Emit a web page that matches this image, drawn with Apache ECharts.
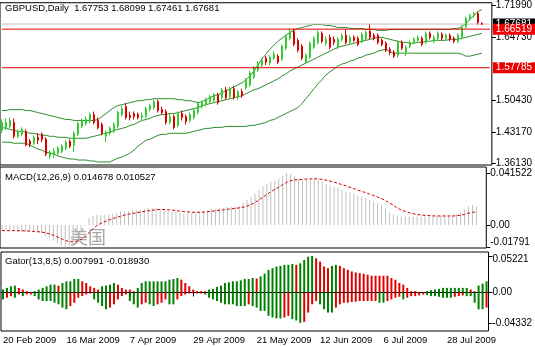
<!DOCTYPE html>
<html><head><meta charset="utf-8">
<script src="https://cdn.jsdelivr.net/npm/echarts@6/dist/echarts.min.js"></script>
<style>html,body{margin:0;padding:0;background:#fff}#c{width:535px;height:347px}</style>
</head><body><div id="c"></div><script>
const dates = ['20 Feb 2009','23 Feb 2009','24 Feb 2009','25 Feb 2009','26 Feb 2009','27 Feb 2009',
'2 Mar 2009','3 Mar 2009','4 Mar 2009','5 Mar 2009','6 Mar 2009','9 Mar 2009','10 Mar 2009','11 Mar 2009','12 Mar 2009','13 Mar 2009','16 Mar 2009','17 Mar 2009','18 Mar 2009','19 Mar 2009','20 Mar 2009','23 Mar 2009','24 Mar 2009','25 Mar 2009','26 Mar 2009','27 Mar 2009','30 Mar 2009','31 Mar 2009',
'1 Apr 2009','2 Apr 2009','3 Apr 2009','6 Apr 2009','7 Apr 2009','8 Apr 2009','9 Apr 2009','10 Apr 2009','13 Apr 2009','14 Apr 2009','15 Apr 2009','16 Apr 2009','17 Apr 2009','20 Apr 2009','21 Apr 2009','22 Apr 2009','23 Apr 2009','24 Apr 2009','27 Apr 2009','28 Apr 2009','29 Apr 2009','30 Apr 2009',
'1 May 2009','4 May 2009','5 May 2009','6 May 2009','7 May 2009','8 May 2009','11 May 2009','12 May 2009','13 May 2009','14 May 2009','15 May 2009','18 May 2009','19 May 2009','20 May 2009','21 May 2009','22 May 2009','25 May 2009','26 May 2009','27 May 2009','28 May 2009','29 May 2009',
'1 Jun 2009','2 Jun 2009','3 Jun 2009','4 Jun 2009','5 Jun 2009','8 Jun 2009','9 Jun 2009','10 Jun 2009','11 Jun 2009','12 Jun 2009','15 Jun 2009','16 Jun 2009','17 Jun 2009','18 Jun 2009','19 Jun 2009','22 Jun 2009','23 Jun 2009','24 Jun 2009','25 Jun 2009','26 Jun 2009','29 Jun 2009','30 Jun 2009',
'1 Jul 2009','2 Jul 2009','3 Jul 2009','6 Jul 2009','7 Jul 2009','8 Jul 2009','9 Jul 2009','10 Jul 2009','13 Jul 2009','14 Jul 2009','15 Jul 2009','16 Jul 2009','17 Jul 2009','20 Jul 2009','21 Jul 2009','22 Jul 2009','23 Jul 2009','24 Jul 2009','27 Jul 2009','28 Jul 2009','29 Jul 2009','30 Jul 2009','31 Jul 2009',
'3 Aug 2009','4 Aug 2009','5 Aug 2009','6 Aug 2009','7 Aug 2009','10 Aug 2009','11 Aug 2009'];
const dateTickIndex = [0,16,32,48,64,80,96,112];

const open = [
1.4360,1.4405,1.4449,1.4539,1.4225,1.4270,1.4337,1.4113,1.4068,1.4203,
1.4270,1.4158,1.3777,1.3799,1.3844,1.3889,1.3956,1.4113,1.4024,1.4270,
1.4449,1.4517,1.4561,1.4718,1.4584,1.4494,1.4225,1.4293,1.4337,1.4449,
1.4718,1.4898,1.4696,1.4741,1.4718,1.4651,1.4673,1.4830,1.4875,1.5010,
1.4830,1.4786,1.4539,1.4673,1.4472,1.4741,1.4673,1.4584,1.4651,1.4763,
1.4898,1.4942,1.5010,1.5032,1.5167,1.5100,1.5279,1.5122,1.5301,1.5100,
1.5234,1.5323,1.5391,1.5570,1.5727,1.5839,1.5996,1.5884,1.5996,1.6040,
1.5973,1.6220,1.6444,1.6601,1.6399,1.6265,1.5906,1.6018,1.6242,1.6354,
1.6556,1.6332,1.6466,1.6421,1.6242,1.6421,1.6511,1.6354,1.6466,1.6444,
1.6377,1.6444,1.6601,1.6511,1.6511,1.6399,1.6332,1.6197,1.6130,1.6063,
1.6354,1.6130,1.6265,1.6354,1.6399,1.6444,1.6354,1.6556,1.6377,1.6444,
1.6534,1.6444,1.6511,1.6444,1.6377,1.6466,1.6713,1.6892,1.6959,1.7004,
1.67753];
const close = [
1.4539,1.4539,1.4584,1.4225,1.4337,1.4382,1.4024,1.4046,1.4203,1.4136,
1.4158,1.3822,1.3867,1.3889,1.3956,1.4001,1.4091,1.4001,1.4293,1.4517,
1.4584,1.4606,1.4718,1.4539,1.4427,1.4293,1.4315,1.4405,1.4494,1.4763,
1.4853,1.4651,1.4651,1.4673,1.4651,1.4696,1.4853,1.4920,1.5010,1.4808,
1.4763,1.4539,1.4673,1.4427,1.4741,1.4651,1.4561,1.4718,1.4808,1.4965,
1.4987,1.5055,1.5122,1.5167,1.4987,1.5279,1.5100,1.5301,1.5100,1.5234,
1.5144,1.5503,1.5660,1.5771,1.5884,1.5951,1.5906,1.6018,1.6085,1.5906,
1.6265,1.6489,1.6601,1.6309,1.6175,1.5996,1.6063,1.6332,1.6444,1.6578,
1.6377,1.6421,1.6242,1.6354,1.6421,1.6511,1.6354,1.6466,1.6399,1.6309,
1.6534,1.6578,1.6466,1.6444,1.6354,1.6309,1.6175,1.6130,1.6040,1.6354,
1.6220,1.6242,1.6354,1.6421,1.6466,1.6309,1.6556,1.6466,1.6466,1.6556,
1.6444,1.6511,1.6421,1.6377,1.6511,1.6690,1.6892,1.6959,1.7004,1.6802,
1.67681];
const low = [
1.4293,1.4360,1.4405,1.4180,1.4180,1.4225,1.4001,1.3979,1.4024,1.4046,
1.4091,1.3777,1.3710,1.3732,1.3799,1.3844,1.3911,1.3956,1.3867,1.4225,
1.4405,1.4472,1.4517,1.4494,1.4382,1.4248,1.4091,1.4248,1.4293,1.4405,
1.4673,1.4606,1.4584,1.4606,1.4606,1.4584,1.4629,1.4786,1.4830,1.4763,
1.4718,1.4494,1.4494,1.4382,1.4427,1.4584,1.4494,1.4539,1.4606,1.4718,
1.4853,1.4898,1.4965,1.4987,1.4942,1.5055,1.5055,1.5077,1.5055,1.5055,
1.5100,1.5279,1.5346,1.5525,1.5682,1.5794,1.5839,1.5839,1.5951,1.5861,
1.5928,1.6175,1.6399,1.6265,1.6130,1.5951,1.5861,1.5973,1.6197,1.6309,
1.6332,1.6287,1.6197,1.6287,1.6197,1.6377,1.6309,1.6309,1.6354,1.6265,
1.6332,1.6399,1.6421,1.6399,1.6309,1.6265,1.6130,1.6063,1.5996,1.6018,
1.6175,1.6040,1.6220,1.6309,1.6354,1.6265,1.6309,1.6421,1.6332,1.6399,
1.6399,1.6399,1.6377,1.6332,1.6332,1.6421,1.6668,1.6847,1.6914,1.6758,
1.67461];
const high = [
1.4606,1.4629,1.4651,1.4629,1.4382,1.4427,1.4382,1.4158,1.4248,1.4293,
1.4315,1.4203,1.3911,1.3956,1.4001,1.4046,1.4136,1.4158,1.4337,1.4561,
1.4629,1.4673,1.4763,1.4786,1.4651,1.4539,1.4360,1.4449,1.4539,1.4808,
1.4920,1.4965,1.4786,1.4786,1.4763,1.4763,1.4898,1.4965,1.5055,1.5055,
1.4898,1.4830,1.4741,1.4718,1.4786,1.4808,1.4718,1.4763,1.4853,1.5010,
1.5032,1.5100,1.5167,1.5211,1.5211,1.5323,1.5346,1.5346,1.5368,1.5279,
1.5301,1.5548,1.5704,1.5816,1.5928,1.5996,1.6040,1.6063,1.6153,1.6085,
1.6309,1.6534,1.6668,1.6668,1.6444,1.6309,1.6108,1.6377,1.6489,1.6623,
1.6601,1.6489,1.6534,1.6489,1.6466,1.6556,1.6646,1.6511,1.6511,1.6489,
1.6578,1.6623,1.6758,1.6556,1.6556,1.6444,1.6377,1.6242,1.6175,1.6399,
1.6399,1.6287,1.6399,1.6466,1.6511,1.6489,1.6601,1.6601,1.6511,1.6601,
1.6578,1.6556,1.6556,1.6489,1.6556,1.6735,1.6937,1.7004,1.7049,1.7049,
1.68099];

const bbUpper = [
1.4808,1.4808,1.4830,1.4830,1.4830,1.4830,1.4808,1.4808,1.4786,1.4763,
1.4741,1.4718,1.4696,1.4673,1.4651,1.4629,1.4606,1.4606,1.4584,1.4584,
1.4584,1.4584,1.4584,1.4584,1.4606,1.4673,1.4741,1.4808,1.4875,1.4920,
1.4942,1.4965,1.4987,1.5010,1.5032,1.5032,1.5055,1.5055,1.5077,1.5077,
1.5077,1.5077,1.5077,1.5077,1.5055,1.5055,1.5032,1.5032,1.5010,1.4987,
1.5010,1.5055,1.5100,1.5144,1.5167,1.5211,1.5256,1.5301,1.5346,1.5391,
1.5435,1.5503,1.5592,1.5704,1.5839,1.5973,1.6085,1.6197,1.6287,1.6377,
1.6444,1.6511,1.6578,1.6623,1.6668,1.6690,1.6713,1.6735,1.6758,1.6758,
1.6758,1.6735,1.6735,1.6713,1.6690,1.6690,1.6690,1.6668,1.6668,1.6668,
1.6668,1.6646,1.6646,1.6646,1.6623,1.6623,1.6623,1.6646,1.6646,1.6646,
1.6646,1.6646,1.6646,1.6646,1.6646,1.6646,1.6646,1.6646,1.6646,1.6646,
1.6646,1.6646,1.6646,1.6668,1.6668,1.6713,1.6780,1.6870,1.6959,1.7049,
1.7094];
const bbMiddle = [
1.4427,1.4405,1.4382,1.4360,1.4337,1.4337,1.4315,1.4293,1.4293,1.4270,
1.4248,1.4248,1.4225,1.4225,1.4203,1.4203,1.4203,1.4180,1.4180,1.4180,
1.4180,1.4180,1.4203,1.4225,1.4248,1.4270,1.4293,1.4315,1.4360,1.4382,
1.4405,1.4427,1.4472,1.4494,1.4539,1.4584,1.4606,1.4629,1.4673,1.4696,
1.4718,1.4718,1.4741,1.4741,1.4763,1.4786,1.4808,1.4830,1.4853,1.4875,
1.4920,1.4942,1.4965,1.4987,1.5010,1.5032,1.5055,1.5077,1.5100,1.5122,
1.5144,1.5189,1.5234,1.5279,1.5301,1.5346,1.5391,1.5435,1.5480,1.5525,
1.5592,1.5637,1.5704,1.5749,1.5794,1.5839,1.5884,1.5928,1.5973,1.6018,
1.6063,1.6108,1.6153,1.6197,1.6242,1.6265,1.6287,1.6309,1.6332,1.6354,
1.6377,1.6399,1.6421,1.6444,1.6466,1.6466,1.6444,1.6421,1.6399,1.6377,
1.6354,1.6354,1.6332,1.6332,1.6354,1.6354,1.6377,1.6377,1.6399,1.6399,
1.6399,1.6399,1.6421,1.6421,1.6421,1.6444,1.6466,1.6489,1.6511,1.6534,
1.6556];
const bbLower = [
1.4091,1.4091,1.4091,1.4068,1.4068,1.4068,1.4068,1.4024,1.3979,1.3934,
1.3911,1.3867,1.3844,1.3822,1.3777,1.3755,1.3732,1.3710,1.3710,1.3688,
1.3688,1.3688,1.3665,1.3665,1.3643,1.3643,1.3643,1.3643,1.3688,1.3732,
1.3755,1.3799,1.3844,1.3911,1.4001,1.4068,1.4136,1.4158,1.4203,1.4248,
1.4270,1.4270,1.4293,1.4293,1.4293,1.4293,1.4293,1.4315,1.4337,1.4360,
1.4382,1.4405,1.4405,1.4427,1.4427,1.4427,1.4449,1.4449,1.4449,1.4449,
1.4449,1.4449,1.4472,1.4472,1.4494,1.4517,1.4539,1.4584,1.4606,1.4651,
1.4696,1.4741,1.4786,1.4830,1.4875,1.4965,1.5077,1.5189,1.5301,1.5413,
1.5503,1.5615,1.5682,1.5749,1.5816,1.5861,1.5884,1.5928,1.5951,1.5996,
1.6018,1.6063,1.6085,1.6108,1.6153,1.6175,1.6197,1.6130,1.6108,1.6108,
1.6108,1.6108,1.6108,1.6108,1.6108,1.6108,1.6108,1.6108,1.6108,1.6108,
1.6108,1.6108,1.6108,1.6108,1.6108,1.6085,1.6040,1.6040,1.6063,1.6085,
1.6108];

const macdMain = [
-0.0040,-0.0042,-0.0043,-0.0047,-0.0050,-0.0050,-0.0055,-0.0060,-0.0060,-0.0062,
-0.0065,-0.0085,-0.0105,-0.0125,-0.0145,-0.0165,-0.01791,-0.0170,-0.0140,-0.0100,
-0.0055,-0.0005,0.0055,0.0072,0.0080,0.0078,0.0080,0.0085,0.0090,0.0100,
0.0110,0.0110,0.0112,0.0115,0.0118,0.0120,0.0130,0.0135,0.0138,0.0135,
0.0128,0.0118,0.0112,0.0103,0.0100,0.0095,0.0090,0.0090,0.0095,0.0100,
0.0105,0.0110,0.0118,0.0125,0.0125,0.0135,0.0135,0.0142,0.0145,0.0150,
0.0150,0.0175,0.0200,0.0225,0.0250,0.0280,0.0310,0.0330,0.0345,0.0355,
0.0370,0.0395,0.041522,0.0405,0.0385,0.0365,0.0355,0.0360,0.0365,0.0370,
0.0360,0.0345,0.0330,0.0315,0.0305,0.0295,0.0280,0.0270,0.0260,0.0245,
0.0235,0.0228,0.0215,0.0200,0.0190,0.0178,0.0160,0.0130,0.0100,0.0085,
0.0075,0.0068,0.0066,0.0065,0.0066,0.0066,0.0068,0.0070,0.0070,0.0072,
0.0072,0.0074,0.0075,0.0076,0.0080,0.0090,0.0105,0.0125,0.0150,0.0160,
0.014678];
const macdSignal = [
-0.0045,-0.0045,-0.0045,-0.0045,-0.0046,-0.0046,-0.0047,-0.0049,-0.0051,-0.0053,
-0.0056,-0.0062,-0.0071,-0.0082,-0.0095,-0.0109,-0.0123,-0.0133,-0.0135,-0.0128,
-0.0114,-0.0092,-0.0062,-0.0032,-0.0005,0.0013,0.0027,0.0039,0.0050,0.0060,
0.0070,0.0079,0.0086,0.0092,0.0098,0.0103,0.0108,0.0113,0.0118,0.0122,
0.0124,0.0124,0.0122,0.0119,0.0115,0.0111,0.0107,0.0104,0.0102,0.0101,
0.0102,0.0103,0.0106,0.0110,0.0113,0.0117,0.0121,0.0125,0.0129,0.0133,
0.0137,0.0142,0.0150,0.0163,0.0180,0.0200,0.0222,0.0244,0.0265,0.0284,
0.0303,0.0322,0.0340,0.0353,0.0360,0.0362,0.0364,0.0366,0.0368,0.0369,
0.0368,0.0364,0.0358,0.0350,0.0342,0.0333,0.0322,0.0312,0.0301,0.0290,
0.0279,0.0268,0.0258,0.0246,0.0235,0.0223,0.0211,0.0195,0.0176,0.0158,
0.0135,0.0120,0.0108,0.0098,0.0090,0.0084,0.0080,0.0077,0.0075,0.0073,
0.0072,0.0072,0.0072,0.0072,0.0072,0.0074,0.0078,0.0085,0.0094,0.0101,
0.010527];

const gatorUpper = [
0.0042,0.0066,0.0089,0.0099,0.0066,0.0042,0.0019,0.0005,0.0019,0.0042,
0.0066,0.0089,0.0113,0.0113,0.0099,0.0136,0.0160,0.0160,0.0193,0.0193,
0.0160,0.0136,0.0089,0.0066,0.0042,0.0089,0.0099,0.0113,0.0136,0.0113,
0.0066,0.0042,0.0042,0.0019,0.0066,0.0136,0.0160,0.0160,0.0160,0.0160,
0.0160,0.0160,0.0183,0.0193,0.0207,0.0183,0.0136,0.0089,0.0042,0.0019,
0.0019,0.0019,0.0042,0.0052,0.0080,0.0099,0.0136,0.0146,0.0160,0.0160,
0.0174,0.0193,0.0193,0.0207,0.0200,0.0230,0.0270,0.0324,0.0348,0.0371,
0.0381,0.0395,0.0395,0.0409,0.0395,0.0418,0.0465,0.0512,0.05221,0.0489,
0.0442,0.0371,0.0348,0.0381,0.0395,0.0381,0.0348,0.0324,0.0301,0.0287,
0.0277,0.0268,0.0254,0.0240,0.0240,0.0240,0.0240,0.0240,0.0207,0.0183,
0.0136,0.0113,0.0066,0.0019,0.0019,0.0009,0.0009,0.0019,0.0033,0.0042,
0.0052,0.0066,0.0066,0.0066,0.0066,0.0066,0.0066,0.0066,0.0042,0.0019,
0.0099,0.0127,0.0160];
const gatorLower = [
-0.0099,-0.0075,-0.0052,-0.0075,-0.0028,-0.0052,-0.0028,-0.0028,-0.0052,-0.0099,
-0.0122,-0.0122,-0.0122,-0.0146,-0.0169,-0.0216,-0.0240,-0.0193,-0.0146,-0.0075,
-0.0052,-0.0028,-0.0014,-0.0099,-0.0146,-0.0193,-0.0240,-0.0216,-0.0169,-0.0099,
-0.0052,-0.0028,-0.0122,-0.0169,-0.0216,-0.0169,-0.0146,-0.0169,-0.0193,-0.0169,
-0.0146,-0.0099,-0.0169,-0.0169,-0.0099,-0.0052,-0.0028,-0.0014,-0.0014,-0.0014,
-0.0014,-0.0028,-0.0075,-0.0099,-0.0122,-0.0146,-0.0169,-0.0169,-0.0169,-0.0193,
-0.0193,-0.0193,-0.0169,-0.0193,-0.0216,-0.0263,-0.0263,-0.0334,-0.0357,-0.0371,
-0.0371,-0.0357,-0.0334,-0.0381,-0.0400,-0.04332,-0.0420,-0.0287,-0.0169,-0.0122,
-0.0169,-0.0240,-0.0287,-0.0287,-0.0216,-0.0169,-0.0146,-0.0146,-0.0136,-0.0132,
-0.0122,-0.0122,-0.0122,-0.0122,-0.0122,-0.0146,-0.0146,-0.0122,-0.0099,-0.0075,
-0.0061,-0.0099,-0.0075,-0.0052,-0.0052,-0.0042,-0.0028,-0.0038,-0.0052,-0.0052,
-0.0061,-0.0075,-0.0075,-0.0075,-0.0061,-0.0052,-0.0042,-0.0052,-0.0052,-0.0146,
-0.0240,-0.0240,-0.0216];

const priceTicks = [1.7199, 1.6473, 1.5043, 1.4317, 1.3613];
const priceTickLabels = ['1.71990','1.64730','1.50430','1.43170','1.36130'];
const macdTicks = [0.041522, 0, -0.01791];
const macdTickLabels = ['0.041522','0.00','-0.01791'];
const gatorTicks = [0.05221, 0, -0.04332];
const gatorTickLabels = ['0.05221','0.00','-0.04332'];
const levelLines = [1.66519, 1.57785];
const levelLabels = ['1.66519','1.57785'];
const bidLine = 1.67681;
const bidLabel = '1.67681';
const titleMain = 'GBPUSD,Daily  1.67753 1.68099 1.67461 1.67681';
const titleMacd = 'MACD(12,26,9) 0.014678 0.010527';
const titleGator = 'Gator(13,8,5) 0.007991 -0.018930';
const watermark = '美国';

const FONT = 'Liberation Sans';
const GREEN = '#008000', RED = '#e00000', LEVEL = '#e00000';

function tickFmt(ticks, labels, rich) {
  return function (v) {
    for (let i = 0; i < ticks.length; i++) {
      if (Math.abs(v - ticks[i]) < 1e-9) return rich && rich[i] ? '{' + rich[i] + '|' + labels[i] + '}' : labels[i];
    }
    return '';
  };
}
function gatorItems(arr) {
  let col = GREEN;
  return arr.map((v, i) => {
    if (i > 0) {
      const a = Math.abs(v), b = Math.abs(arr[i - 1]);
      if (a > b) col = GREEN; else if (a < b) col = RED;
    }
    return { value: v, itemStyle: { color: col } };
  });
}
const showDate = (idx) => dateTickIndex.indexOf(idx) >= 0;
const candles = dates.map((d, i) => i < open.length ? [open[i], close[i], low[i], high[i]] : '-');
const firstCat = dates[0], lastCat = dates[dates.length - 1];

const labelStyle = { fontFamily: FONT, fontSize: 10, color: '#000' };
const richLab = {
  up: { fontFamily: FONT, fontSize: 10, color: '#000', padding: [0, 0, 10, 0] },
  dn: { fontFamily: FONT, fontSize: 10, color: '#000', padding: [6, 0, 0, 0] }
};

function xAx(gi, showLab) {
  return {
    type: 'category', gridIndex: gi, data: dates, boundaryGap: true,
    axisLine: { show: showLab, lineStyle: { color: '#000', width: 1 } },
    axisTick: { show: showLab, interval: (i) => showDate(i), alignWithLabel: true, length: 4, lineStyle: { color: '#000' } },
    axisLabel: { show: showLab, interval: (i) => showDate(i), align: 'left', margin: 4, fontFamily: FONT, fontSize: 9.5, color: '#000' },
    splitLine: { show: false }
  };
}
function yAx(gi, min, max, ticks, labels, rich) {
  return {
    type: 'value', gridIndex: gi, position: 'right', min: min, max: max,
    axisLine: { show: false }, splitLine: { show: false },
    axisTick: { show: true, customValues: ticks, length: 4, lineStyle: { color: '#000' } },
    axisLabel: Object.assign({ customValues: ticks, margin: 4, formatter: tickFmt(ticks, labels, rich), rich: richLab }, labelStyle)
  };
}
function levelSeries(name, value, text, lineColor, boxColor, z) {
  return {
    type: 'line', name: name, xAxisIndex: 0, yAxisIndex: 0, z: z, clip: false, silent: true,
    data: [[firstCat, value], [lastCat, value]],
    symbol: 'none', showSymbol: false, color: lineColor,
    lineStyle: { color: lineColor, width: 1, type: 'solid' },
    endLabel: { show: true, formatter: () => text, distance: 3, backgroundColor: boxColor, color: '#fff',
      padding: [1, 3, 0, 3], fontFamily: FONT, fontSize: 10 }
  };
}

const chart = echarts.init(document.getElementById('c'), null, { renderer: 'canvas' });
chart.setOption({
  animation: false,
  backgroundColor: '#fff',
  title: [
    { text: titleMain, left: 5, top: 3, padding: 0, textStyle: { fontFamily: FONT, fontSize: 9.5, fontWeight: 'normal', color: '#000' } },
    { text: titleMacd, left: 5, top: 172, padding: 0, textStyle: { fontFamily: FONT, fontSize: 9.5, fontWeight: 'normal', color: '#000' } },
    { text: titleGator, left: 5, top: 256, padding: 0, textStyle: { fontFamily: FONT, fontSize: 9.5, fontWeight: 'normal', color: '#000' } }
  ],
  graphic: [
    { type: 'text', left: 70, top: 228, z: 0, silent: true,
      style: { text: watermark, fill: '#a8a8a8', font: '18px "Noto Sans CJK SC"' } }
  ],
  grid: [
    { left: 0, top: 1, width: 493, height: 164, show: true, borderColor: '#000', borderWidth: 1, backgroundColor: 'transparent' },
    { left: 0, top: 167, width: 493, height: 81, show: true, borderColor: '#000', borderWidth: 1, backgroundColor: 'transparent' },
    { left: 0, top: 252, width: 493, height: 79, show: true, borderColor: '#000', borderWidth: 1, backgroundColor: 'transparent' }
  ],
  xAxis: [xAx(0, false), xAx(1, false), xAx(2, true)],
  yAxis: [
    yAx(0, 1.35749, 1.72505, priceTicks, priceTickLabels),
    yAx(1, -0.01835, 0.04628, macdTicks, macdTickLabels, [null, null, 'up']),
    yAx(2, -0.05506, 0.05792, gatorTicks, gatorTickLabels, ['dn', null, null])
  ],
  series: [
    { type: 'line', name: 'bbU', xAxisIndex: 0, yAxisIndex: 0, data: bbUpper, showSymbol: false, symbol: 'none', z: 2,
      lineStyle: { color: '#2f8f2f', width: 1 } },
    { type: 'line', name: 'bbM', xAxisIndex: 0, yAxisIndex: 0, data: bbMiddle, showSymbol: false, symbol: 'none', z: 2,
      lineStyle: { color: '#2f8f2f', width: 1 } },
    { type: 'line', name: 'bbL', xAxisIndex: 0, yAxisIndex: 0, data: bbLower, showSymbol: false, symbol: 'none', z: 2,
      lineStyle: { color: '#2f8f2f', width: 1 } },
    levelSeries('bid', bidLine, bidLabel, '#c0c0c0', '#000', 3),
    { type: 'candlestick', name: 'GBPUSD', xAxisIndex: 0, yAxisIndex: 0, data: candles, barWidth: 2, z: 4,
      itemStyle: { color: '#66ff66', color0: '#990000', borderColor: '#33cc33', borderColor0: '#dd0000', borderWidth: 1 } },
    levelSeries('level1', levelLines[0], levelLabels[0], LEVEL, '#ee0000', 5),
    levelSeries('level2', levelLines[1], levelLabels[1], LEVEL, '#ee0000', 5),
    { type: 'bar', name: 'MACD', xAxisIndex: 1, yAxisIndex: 1, data: macdMain, barWidth: 1, z: 2,
      itemStyle: { color: '#c0c0c0' } },
    { type: 'line', name: 'Signal', xAxisIndex: 1, yAxisIndex: 1, data: macdSignal, showSymbol: false, symbol: 'none', z: 3,
      lineStyle: { color: '#cc0000', width: 1, type: [3, 2] } },
    { type: 'bar', name: 'GatorUp', xAxisIndex: 2, yAxisIndex: 2, data: gatorItems(gatorUpper), barWidth: 2, barGap: '-100%', z: 2 },
    { type: 'bar', name: 'GatorDn', xAxisIndex: 2, yAxisIndex: 2, data: gatorItems(gatorLower), barWidth: 2, barGap: '-100%', z: 2 }
  ]
});
</script></body></html>
